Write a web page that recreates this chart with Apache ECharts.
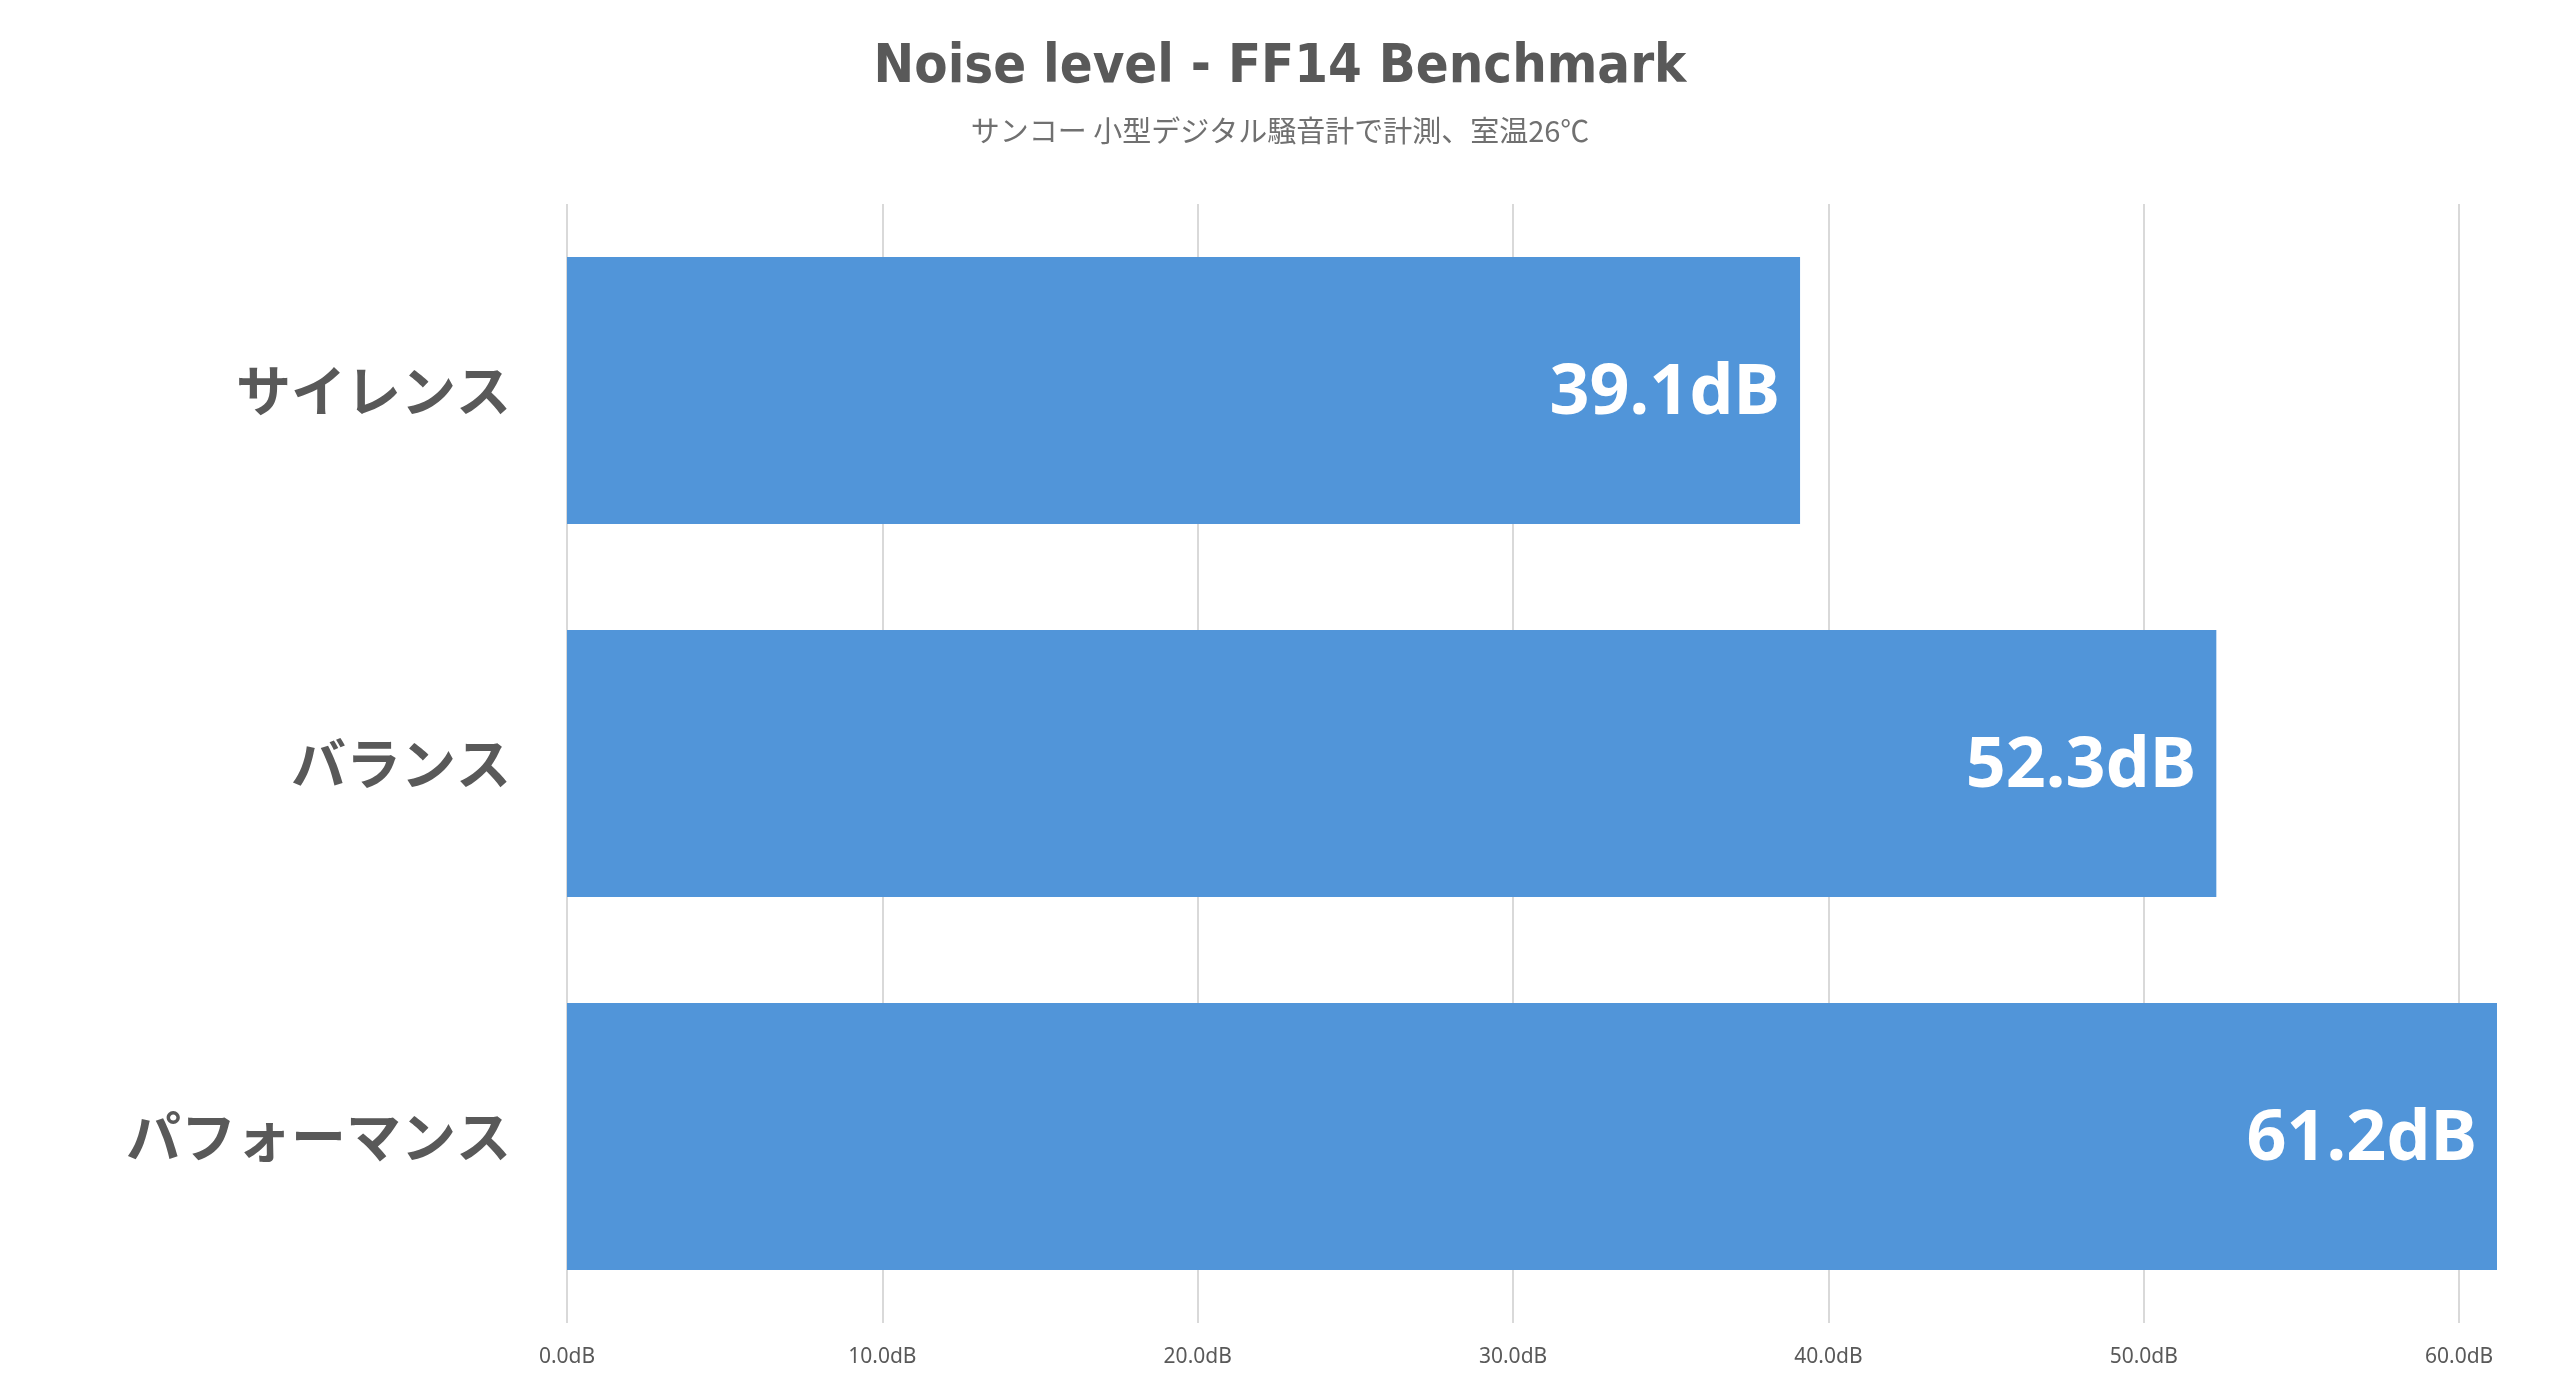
<!DOCTYPE html>
<html>
<head>
<meta charset="utf-8">
<title>Noise level - FF14 Benchmark</title>
<script src="https://cdn.jsdelivr.net/npm/echarts@6/dist/echarts.min.js"></script>
<style>
  html, body { margin: 0; padding: 0; background: #fff; }
  #chart { width: 2560px; height: 1379px; }
</style>
</head>
<body>
<div id="chart"></div>
<script>
// data
const modes = ['サイレンス', 'バランス', 'パフォーマンス']
const noiseDb = [39.1, 52.3, 61.2]
const tickStep = 10

const barColor = '#5195d9'
const textGray = '#595959'
const gridGray = '#d9d9d9'
const cjk = '"Noto Sans CJK JP", "Noto Sans", sans-serif'

const chart = echarts.init(document.getElementById('chart'))

chart.setOption({
  animation: false,
  title: {
    text: 'Noise level - FF14 Benchmark',
    subtext: 'サンコー 小型デジタル騒音計で計測、室温26℃',
    left: 'center',
    top: 36,
    itemGap: 21,
    textStyle: {
      fontFamily: '"Liberation Sans Narrow", "DejaVu Sans Condensed", Roboto, sans-serif',
      fontWeight: 'bold',
      fontSize: 54,
      color: textGray
    },
    subtextStyle: {
      fontFamily: cjk,
      fontSize: 29,
      color: '#707070'
    }
  },
  grid: { left: 567, right: 63, top: 204, bottom: 56, containLabel: false },
  xAxis: {
    type: 'value',
    min: 0,
    max: 'dataMax',
    interval: tickStep,
    axisLine: { show: false },
    axisTick: { show: false },
    axisLabel: {
      showMaxLabel: false,
      margin: 24,
      fontFamily: '"Noto Sans", sans-serif',
      fontSize: 21,
      color: textGray,
      formatter: v => v.toFixed(1) + 'dB'
    },
    splitLine: { show: true, showMaxLine: false, lineStyle: { color: gridGray, width: 2 } }
  },
  yAxis: {
    type: 'category',
    data: modes,
    inverse: true,
    axisLine: { show: false },
    axisTick: { show: false },
    axisLabel: {
      margin: 56,
      fontFamily: cjk,
      fontWeight: 'bold',
      fontSize: 55,
      color: textGray
    }
  },
  series: [{
    type: 'bar',
    data: noiseDb,
    barCategoryGap: '28.4%',
    itemStyle: { color: barColor },
    label: {
      show: true,
      position: 'insideRight',
      distance: 20,
      offset: [0, 4],
      formatter: p => p.value.toFixed(1) + 'dB',
      fontFamily: '"Noto Sans", sans-serif',
      fontWeight: 'bold',
      fontSize: 70,
      color: '#fff'
    }
  }]
})
</script>
</body>
</html>
